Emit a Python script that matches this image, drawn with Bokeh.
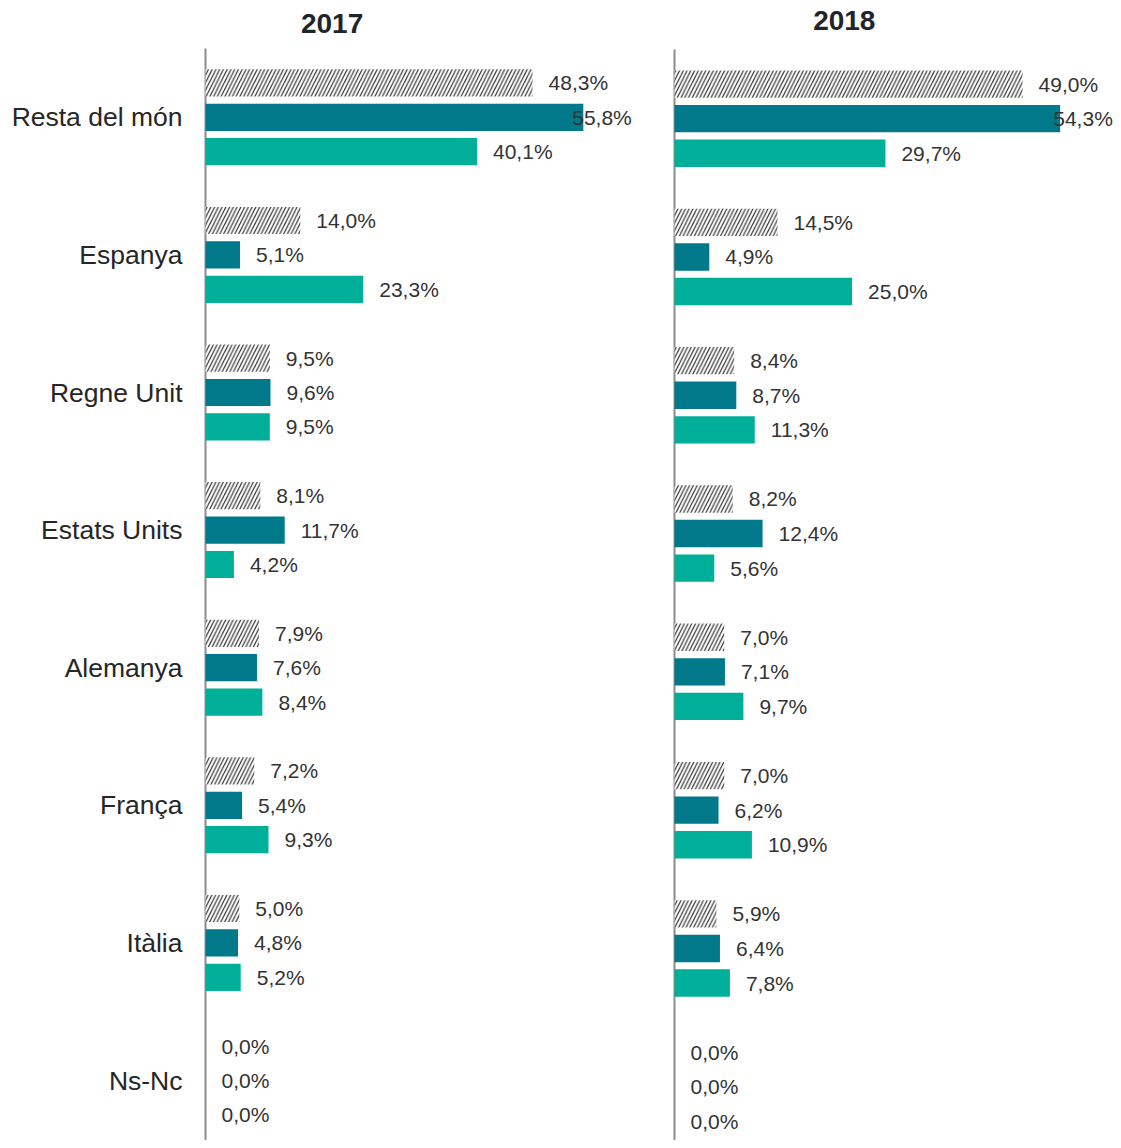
from bokeh.plotting import figure
from bokeh.models import Range1d, FixedTicker, ColumnDataSource
from bokeh.transform import dodge
from bokeh.layouts import row
from bokeh.core.properties import value
from bokeh.embed import file_html
from bokeh.resources import INLINE

categories = ["Resta del món", "Espanya", "Regne Unit", "Estats Units",
              "Alemanya", "França", "Itàlia", "Ns-Nc"]

hatched_2017 = [48.3, 14.0, 9.5, 8.1, 7.9, 7.2, 5.0, 0.0]
dark_2017 = [55.8, 5.1, 9.6, 11.7, 7.6, 5.4, 4.8, 0.0]
light_2017 = [40.1, 23.3, 9.5, 4.2, 8.4, 9.3, 5.2, 0.0]

hatched_2018 = [49.0, 14.5, 8.4, 8.2, 7.0, 7.0, 5.9, 0.0]
dark_2018 = [54.3, 4.9, 8.7, 12.4, 7.1, 6.2, 6.4, 0.0]
light_2018 = [29.7, 25.0, 11.3, 5.6, 9.7, 10.9, 7.8, 0.0]

DARK = "#007A8A"
LIGHT = "#00AF9A"
FONT = "Liberation Sans"


def fmt(v):
    return f"{v:.1f}%".replace(".", ",")


def make_panel(title, hatched, dark, light, fig_w, border_left, frame_w,
               px_per_unit, px_per_cat, top_px, title_x_px, title_y_px,
               label_max_px, show_cats):
    fig_h = 1140
    pad = 2  # pixels between frame edge and the zero line
    top = -0.5 - top_px / px_per_cat
    bottom = top + fig_h / px_per_cat
    p = figure(width=fig_w, height=fig_h, output_backend="svg",
               toolbar_location=None, min_border_left=int(border_left - pad),
               min_border_right=0, min_border_top=0, min_border_bottom=0,
               x_range=Range1d(-pad / px_per_unit, (frame_w - pad) / px_per_unit),
               y_range=Range1d(bottom, top))
    p.outline_line_color = None
    p.xgrid.visible = False
    p.ygrid.visible = False
    p.xaxis.visible = False
    p.background_fill_color = "white"
    p.border_fill_color = "white"

    # zero (category) axis line
    p.segment(x0=[0], y0=[-0.5], x1=[0], y1=[bottom], line_color="#8C8C8C",
              line_width=2)

    # panel title
    p.text(x=[title_x_px / px_per_unit], y=[top + title_y_px / px_per_cat],
           text=[title], text_align="center", text_baseline="middle",
           text_font=value(FONT), text_font_style="bold",
           text_font_size="28px", text_color="#1E252D")

    idx = list(range(len(categories)))
    series = [(hatched, -0.25, "hatch"), (dark, 0.0, DARK), (light, 0.25, LIGHT)]
    for vals, off, col in series:
        offs = []
        for v in vals:
            end_px = v * px_per_unit
            offs.append(min(16, label_max_px - 60 - end_px))
        src = ColumnDataSource(dict(idx=idx, v=vals,
                                    lab=[fmt(v) for v in vals], xo=offs))
        if col == "hatch":
            p.hbar(y=dodge("idx", off), right="v", left=0, height=0.198,
                   source=src, fill_color="white", line_color=None,
                   hatch_pattern="/", hatch_color="#333333",
                   hatch_scale=7.5, hatch_weight=1.2)
        else:
            p.hbar(y=dodge("idx", off), right="v", left=0, height=0.198,
                   source=src, fill_color=col, line_color=None)
        p.text(x="v", y=dodge("idx", off), text="lab", source=src,
               x_offset="xo", text_align="left", text_baseline="middle",
               text_font=value(FONT), text_font_size="21px",
               text_color="#333333")

    yax = p.yaxis[0]
    yax.axis_line_color = None
    yax.major_tick_line_color = None
    yax.minor_tick_line_color = None
    yax.major_tick_in = 0
    yax.major_tick_out = 0
    if show_cats:
        yax.ticker = FixedTicker(ticks=idx)
        yax.major_label_overrides = {i: c for i, c in enumerate(categories)}
        yax.major_label_text_font = FONT
        yax.major_label_text_font_size = "26.5px"
        yax.major_label_text_color = "#262626"
        yax.major_label_standoff = 21
    else:
        yax.ticker = FixedTicker(ticks=[])
        yax.major_label_text_font_size = "0px"
    return p


p1 = make_panel("2017", hatched_2017, dark_2017, light_2017,
                fig_w=648, border_left=205, frame_w=443,
                px_per_unit=6.74, px_per_cat=137.6, top_px=48,
                title_x_px=126, title_y_px=23, label_max_px=425,
                show_cats=True)
p2 = make_panel("2018", hatched_2018, dark_2018, light_2018,
                fig_w=465, border_left=26, frame_w=439,
                px_per_unit=7.07, px_per_cat=138.3, top_px=49,
                title_x_px=169, title_y_px=20, label_max_px=437,
                show_cats=False)

layout = row(p1, p2)
open("out.html", "w").write(file_html(layout, INLINE))
